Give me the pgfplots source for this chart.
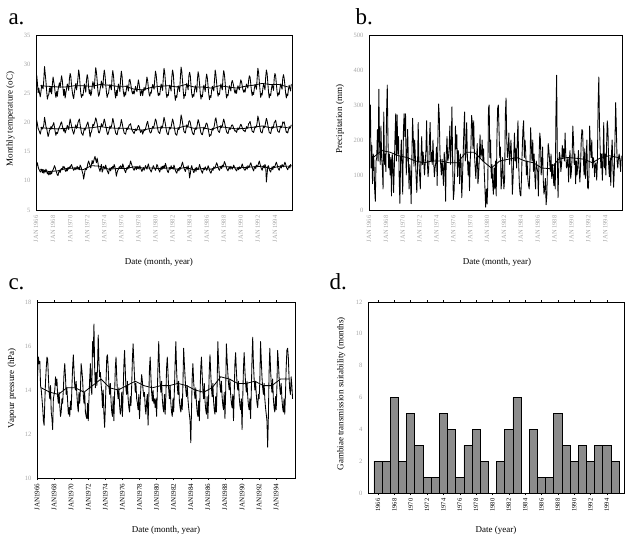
\documentclass[border=0pt]{standalone}
\usepackage{pgfplots}
\pgfplotsset{compat=1.18}
\usepackage{pgfplotstable}
\usepackage{fontspec}
\setmainfont{Liberation Serif}

% monthly series, Jan 1966 - Dec 1995
% tx: max temp, tm: mean temp, tn: min temp, pr: precipitation, vp: vapour pressure
\pgfplotstableread{
tx tm tn pr vp
27.6 19.9 12.9 130 13.9
28.1 20.4 12.6 225 14.8
26.8 19.7 13.1 300 15.5
25.1 19.0 12.4 120 15.2
25.9 18.7 12.0 185 15.3
25.0 18.4 11.8 75 14.2
24.4 18.0 11.5 160 14.0
25.3 18.6 11.7 140 13.6
26.4 19.2 12.0 60 13.2
26.0 18.9 11.4 25 12.6
25.8 19.1 11.9 140 12.4
27.4 19.6 11.3 150 13.5
29.6 20.9 11.8 230 14.4
28.3 20.2 11.5 140 15.0
27.0 19.3 12.0 345 15.5
25.4 19.0 11.6 190 15.4
24.0 18.3 11.2 130 14.6
24.6 17.6 11.5 240 13.9
24.8 18.0 11.0 150 13.6
25.9 18.7 11.4 120 14.2
25.2 18.8 11.1 60 13.0
26.1 19.3 11.6 280 12.7
24.9 18.9 11.2 130 12.2
26.5 19.4 11.7 160 13.6
27.8 19.6 11.9 110 13.8
27.0 20.0 12.2 280 14.0
26.2 19.2 12.6 357 14.6
25.0 18.4 12.3 200 14.2
24.3 17.8 11.8 120 14.5
25.3 18.3 11.4 160 13.7
24.5 18.1 11.0 100 13.4
25.6 18.5 10.9 150 13.9
26.3 19.0 11.5 40 13.3
26.8 19.2 11.8 160 12.8
26.0 19.5 11.4 140 13.0
27.1 19.9 12.0 50 13.6
28.0 20.1 12.1 120 13.4
27.2 19.4 11.9 210 14.0
25.8 19.0 12.5 275 14.8
24.6 18.5 12.2 140 15.2
25.7 18.9 12.4 272 14.6
24.2 18.2 11.8 160 13.8
25.1 18.6 11.6 210 14.1
25.8 19.0 12.0 85 13.5
26.6 19.5 11.7 19 12.9
26.2 19.2 12.3 150 13.2
25.5 18.8 12.0 200 12.8
27.5 19.8 12.4 120 13.5
28.4 20.6 12.2 45 13.1
27.9 20.0 12.6 230 14.1
26.3 19.4 12.8 275 15.0
25.3 18.8 12.4 210 15.6
24.5 18.4 12.1 275 14.9
24.1 18.0 11.8 100 14.2
25.2 18.5 12.0 150 14.0
26.0 19.1 12.3 230 14.4
26.7 19.6 11.9 145 13.8
25.6 19.0 12.2 60 13.3
26.4 19.3 12.5 130 13.0
27.6 20.0 12.0 90 13.9
29.0 20.3 12.3 18 13.4
28.2 20.6 11.9 150 14.0
26.4 19.7 12.7 262 15.2
25.0 18.9 12.5 210 14.9
24.3 18.2 12.1 125 14.5
24.8 18.0 11.6 200 13.8
24.6 17.8 11.2 150 13.4
25.5 18.4 10.3 95 13.9
26.6 19.0 11.0 50 13.0
26.0 18.7 11.8 120 12.8
25.2 19.1 12.1 250 12.7
27.3 19.5 11.9 140 13.4
28.2 19.8 12.4 100 12.6
27.6 20.1 13.0 60 13.6
26.0 19.4 13.4 150 14.5
24.9 18.7 13.0 210 15.2
25.6 17.5 12.6 130 14.1
24.6 18.2 12.2 165 13.8
25.0 18.4 12.8 135 16.2
26.2 19.0 13.5 100 15.5
27.0 19.7 12.9 135 17.0
26.5 19.4 13.3 170 15.0
25.8 19.8 13.8 255 14.1
27.8 20.2 14.2 140 14.8
29.4 20.8 13.6 95 14.2
28.6 20.4 13.1 120 15.0
27.2 19.8 13.9 200 16.5
25.4 19.0 13.2 250 15.3
24.5 18.3 12.4 140 14.6
24.8 18.2 12.0 165 14.8
25.6 18.6 11.6 130 14.3
26.3 19.2 12.2 200 13.9
27.1 19.8 12.8 140 13.2
26.4 19.3 11.5 95 14.0
25.9 19.5 11.8 120 12.9
27.9 20.0 12.5 135 12.3
29.0 20.6 12.3 180 13.2
28.2 20.1 12.0 70 14.4
26.6 19.4 12.7 200 15.5
25.3 18.9 12.2 303 15.6
24.3 18.2 11.8 270 15.0
24.8 17.9 11.5 160 14.2
25.0 18.3 11.2 130 13.8
25.9 18.8 11.9 100 14.3
26.5 19.4 12.2 145 13.5
26.1 19.0 11.7 110 13.0
25.6 19.3 12.3 70 12.8
27.8 19.9 12.1 165 13.7
28.9 20.7 12.5 140 12.6
28.0 20.2 12.2 25 13.8
26.4 19.5 12.8 160 15.0
25.0 18.8 12.4 210 15.5
24.2 18.2 11.7 140 14.6
25.5 18.0 10.8 150 13.9
24.6 17.9 11.4 175 13.6
25.8 18.5 11.8 240 14.1
26.6 19.1 12.0 130 13.3
26.0 18.9 12.4 180 12.9
25.3 19.2 12.2 295 13.1
27.5 19.7 12.6 140 13.9
28.8 20.5 12.4 30 12.8
28.0 20.0 12.1 50 13.9
26.2 19.3 12.9 110 15.1
25.1 18.7 12.5 240 15.8
24.4 18.2 12.0 175 14.9
25.2 18.1 11.7 215 14.0
24.7 18.0 11.4 95 13.8
25.6 18.6 11.9 170 14.4
26.4 19.1 12.3 140 13.6
26.0 18.8 12.0 75 13.2
25.4 19.2 12.6 160 13.0
27.2 19.6 12.2 135 13.7
27.4 19.6 12.8 35 13.3
26.8 19.8 13.4 90 14.2
26.0 19.2 13.0 160 15.4
25.2 18.7 12.6 230 16.1
24.9 18.5 12.3 280 15.3
25.4 18.3 12.0 140 14.6
24.9 18.1 11.8 165 13.9
25.6 18.5 12.2 250 14.3
26.2 18.9 12.4 150 13.6
25.6 18.6 11.9 100 13.4
25.3 18.8 12.5 140 13.1
26.4 19.2 12.1 55 13.8
27.3 19.5 12.4 140 12.7
26.6 19.3 12.0 180 13.5
25.7 18.8 12.6 270 14.2
24.6 18.3 12.2 250 14.7
25.2 18.5 11.9 175 14.4
25.6 18.7 11.6 255 14.0
24.6 18.0 12.0 160 13.7
25.4 18.4 12.3 125 13.9
26.0 18.8 11.8 90 13.2
25.5 18.6 12.2 140 12.9
25.8 18.9 12.6 190 13.5
26.7 19.4 12.3 75 13.8
27.8 19.9 12.0 100 12.4
27.2 20.2 12.5 150 13.6
26.0 19.5 12.9 215 15.0
24.9 18.9 12.4 150 15.5
24.5 18.4 12.0 160 14.6
25.2 18.2 11.8 200 13.9
25.0 18.3 11.5 140 13.5
25.9 18.8 11.9 175 14.0
26.5 19.3 12.2 110 13.4
26.2 19.1 12.6 60 13.6
25.7 19.4 12.3 8 13.2
27.4 20.0 12.1 60 13.6
28.8 20.6 11.8 17 12.8
28.2 20.3 12.2 70 13.9
26.8 19.6 12.8 290 15.2
25.4 19.0 12.6 300 16.2
24.6 18.4 12.1 150 15.0
25.0 18.3 11.8 200 14.3
24.7 18.1 11.5 90 13.9
25.8 18.7 12.0 130 14.4
26.6 19.4 12.4 75 13.6
26.1 19.0 11.9 45 13.2
25.5 19.3 12.5 120 13.0
27.6 20.0 12.2 60 13.8
29.3 20.9 12.6 140 12.9
28.6 20.4 12.2 40 13.7
27.0 19.7 13.0 200 15.0
25.1 18.9 12.6 290 15.5
24.3 18.3 12.0 300 14.8
24.8 18.0 11.6 230 14.0
24.6 17.9 11.4 150 13.6
25.7 18.6 11.9 180 14.2
26.4 19.2 12.3 60 13.4
26.0 18.9 12.0 90 13.0
25.4 19.2 12.6 150 12.8
27.8 19.9 12.2 100 13.6
29.0 20.6 12.3 60 13.0
28.4 20.2 12.0 90 14.0
26.6 19.5 12.7 272 15.2
24.9 18.8 12.3 320 16.2
23.8 18.1 11.8 200 15.0
24.6 17.9 11.5 150 14.2
24.3 17.8 11.3 170 13.8
25.5 18.5 11.8 220 14.4
26.3 19.1 12.1 130 13.5
25.9 18.8 11.7 160 13.2
25.3 19.2 12.3 200 13.0
27.6 19.9 12.0 140 13.6
29.5 21.3 12.4 45 13.1
28.8 20.8 12.8 90 14.3
27.2 20.0 13.2 160 15.9
25.5 19.2 12.7 220 15.2
24.1 18.5 12.2 140 14.6
24.8 18.3 11.9 175 14.0
24.6 18.2 11.6 120 13.7
25.9 18.9 12.1 200 14.2
26.7 19.6 12.4 255 13.6
26.2 19.2 12.0 130 13.2
25.6 19.5 12.6 70 12.9
28.0 20.2 11.8 45 12.6
28.6 20.3 10.5 40 11.6
28.0 20.0 11.2 90 13.0
26.3 19.3 12.2 170 14.6
24.9 18.7 12.6 230 15.2
24.3 18.2 12.1 255 14.4
24.8 18.0 11.7 150 13.9
24.5 17.9 11.4 200 13.6
25.6 18.6 11.8 165 14.1
26.3 19.1 12.2 100 13.4
25.9 18.8 11.6 140 13.0
25.2 19.1 12.3 90 12.8
27.4 19.8 12.0 70 13.5
28.7 20.5 11.9 60 12.6
28.0 20.1 12.3 120 13.8
26.6 19.5 12.8 235 15.0
25.0 18.8 12.4 180 15.5
24.0 18.2 11.9 140 14.7
24.7 18.0 11.6 200 14.0
24.4 17.9 11.3 110 13.6
25.6 18.5 11.8 160 14.3
26.4 19.2 12.2 95 13.5
26.0 18.9 11.9 60 13.1
25.3 19.2 12.4 140 12.9
27.4 19.8 12.1 120 13.7
28.3 19.9 11.8 110 12.7
27.6 19.6 12.1 40 13.6
26.2 19.0 12.6 150 14.9
24.8 18.3 12.3 220 15.6
23.9 17.6 11.8 200 14.8
24.6 17.9 11.5 100 14.1
24.3 17.8 11.3 130 13.7
25.5 18.4 11.7 180 14.3
26.2 19.0 12.1 85 13.5
25.8 18.7 11.8 45 13.1
25.4 19.1 12.4 60 12.9
27.2 19.6 12.2 90 13.7
29.0 20.5 12.3 15 13.0
28.2 20.8 12.7 40 14.2
26.8 20.0 13.1 120 16.2
25.4 19.2 12.8 190 15.3
24.5 18.6 12.3 170 14.7
25.0 18.4 12.0 140 14.2
24.8 18.3 11.8 110 13.9
25.9 18.9 12.2 160 14.4
26.6 19.5 12.5 90 13.7
26.1 19.1 12.1 130 13.3
25.6 19.4 12.7 100 13.1
27.8 20.1 12.4 70 13.9
28.9 20.6 12.8 130 12.7
28.2 20.1 13.3 60 13.9
26.8 19.5 13.0 275 16.1
25.2 18.9 12.6 385 15.4
24.2 18.4 12.2 140 14.8
24.8 18.2 11.9 35 14.3
24.6 18.1 11.7 130 14.0
25.6 18.6 12.1 165 14.5
26.3 19.1 12.4 150 13.8
25.9 18.8 12.0 110 13.4
25.4 19.1 12.5 130 13.2
26.8 19.5 12.2 185 13.8
27.2 19.6 12.0 150 12.6
26.8 19.4 12.3 175 13.8
26.2 19.0 12.7 140 15.2
25.4 18.7 12.4 220 15.7
25.0 18.5 12.1 160 14.9
25.6 18.6 11.9 120 14.3
25.0 18.3 11.7 130 14.0
25.8 18.7 12.0 150 14.4
26.3 19.1 12.3 80 13.7
25.9 18.8 11.9 140 13.3
25.6 19.0 12.4 170 13.1
26.6 19.4 12.1 90 13.6
27.3 19.7 12.2 110 12.2
27.0 19.5 12.5 150 13.6
26.3 19.1 12.9 240 15.0
25.6 18.8 12.5 200 15.7
25.2 18.6 12.2 130 14.9
25.6 18.6 11.9 160 14.3
25.2 18.4 11.8 75 13.9
26.0 18.8 12.1 140 14.4
26.6 19.3 12.4 100 13.7
26.2 19.0 12.0 125 13.3
25.9 19.2 12.6 170 13.1
27.2 19.8 12.3 120 13.6
28.0 19.9 12.4 80 12.7
27.8 20.2 12.8 120 13.9
26.6 19.6 13.1 200 15.4
25.4 19.0 12.7 230 16.4
24.6 18.5 12.3 225 15.2
25.2 18.4 12.0 150 14.5
24.8 18.3 11.7 100 14.0
25.8 18.8 12.2 175 14.4
26.5 19.3 12.5 90 13.8
26.2 19.1 12.1 140 13.4
25.7 19.3 12.7 200 13.2
27.6 20.0 12.4 65 13.8
29.3 21.1 12.6 60 13.6
28.6 20.6 13.0 100 14.4
27.0 19.9 13.4 240 16.2
25.5 19.1 12.9 180 15.4
24.3 18.4 12.4 150 14.6
25.0 18.3 12.1 200 14.1
24.7 18.2 11.8 120 13.8
25.8 18.8 12.3 150 14.3
26.6 19.4 12.6 140 13.6
26.2 19.1 12.2 95 13.2
25.6 19.4 12.8 130 12.9
27.8 20.1 12.5 135 12.6
29.0 20.7 9.8 85 11.4
28.4 20.3 11.2 140 12.8
26.8 19.6 12.5 300 14.8
25.2 18.9 12.6 380 15.9
24.2 18.3 12.0 240 15.0
24.9 18.2 11.7 170 14.3
24.6 18.1 11.5 120 13.9
25.7 18.7 12.0 160 14.5
26.5 19.3 12.4 85 13.6
26.1 19.0 11.9 140 13.2
25.5 19.3 12.5 250 13.0
27.6 20.0 12.3 120 13.7
28.4 20.1 12.5 160 13.1
28.0 20.4 12.9 100 14.2
26.6 19.7 13.2 180 15.8
25.3 19.0 12.8 255 15.3
24.5 18.5 12.3 230 14.6
25.1 18.4 12.0 130 14.1
24.8 18.3 11.8 95 13.8
25.8 18.8 12.3 150 14.3
26.6 19.4 12.6 70 13.6
26.2 19.1 12.2 160 13.2
25.7 19.4 12.8 200 13.0
27.6 20.1 12.6 130 13.6
28.2 19.9 12.4 65 12.9
27.6 20.1 12.8 110 13.8
26.4 19.5 13.2 200 15.0
25.1 18.9 12.9 307 15.8
24.2 18.3 12.4 230 15.9
24.9 18.4 12.1 140 15.5
24.6 18.2 11.9 120 14.6
25.7 18.8 12.3 150 14.0
26.4 19.3 12.6 160 13.8
25.9 19.0 12.2 140 14.6
25.4 19.2 12.8 110 14.2
26.6 19.6 12.5 155 13.6
}\clim

\pgfplotsset{
  panel/.style={
    scale only axis,
    axis line style={line width=0.8pt},
    tick align=outside,
    major tick length=2pt,
    minor tick num=0,
    ytick style={draw=none},
    xtick style={draw=none},
    tick label style={font=\fontsize{6.5}{7}\selectfont, text=gray!70},
    label style={font=\fontsize{9}{10}\selectfont},
    /pgf/number format/assume math mode=true,
    /pgf/number format/1000 sep={},
    x tick label style={rotate=90, anchor=east},
  },
  series/.style={black, line width=0.85pt, mark=none, line join=round},
  smooth line/.style={black, line width=0.8pt, mark=none},
}

\begin{document}
\begin{tikzpicture}
\useasboundingbox (0,0) rectangle (639pt,552pt);

% ---------- a. temperature ----------
\node[anchor=base west, font=\fontsize{23}{24}\selectfont] at (5pt,527pt) {a.};
\begin{axis}[panel,
  at={(36pt,342pt)}, anchor=south west,
  width=256pt, height=175pt,
  xmin=1966, xmax=1996, ymin=5, ymax=35,
  ytick={5,10,...,35},
  xtick={1966,1968,...,1994},
  xticklabels={JAN 1966,JAN 1968,JAN 1970,JAN 1972,JAN 1974,JAN 1976,JAN 1978,JAN 1980,JAN 1982,JAN 1984,JAN 1986,JAN 1988,JAN 1990,JAN 1992,JAN 1994},
  ylabel={Monthly temperature (oC)},
  xlabel={Date (month, year)},
  ylabel style={at={(axis description cs:-0.10,0.52)}, anchor=center},
  xlabel style={at={(axis description cs:0.48,-0.30)}, anchor=center},
]
\addplot[series] table[x expr=1966+\coordindex/12, y=tx] {\clim};
\addplot[series] table[x expr=1966+\coordindex/12, y=tm] {\clim};
\addplot[series] table[x expr=1966+\coordindex/12, y=tn] {\clim};
\addplot[smooth line] coordinates {(1966.5,26.3)(1967.5,26.2)(1968.5,26.1)(1969.5,26.1)(1970.5,26.3)(1971.5,26.3)(1972.5,26.2)(1973.5,26.5)(1974.5,26.4)(1975.5,26.2)(1976.5,26.2)(1977.5,25.7)(1978.5,25.6)(1979.5,26.0)(1980.5,26.2)(1981.5,26.3)(1982.5,26.1)(1983.5,26.5)(1984.5,26.1)(1985.5,26.1)(1986.5,25.9)(1987.5,26.3)(1988.5,26.1)(1989.5,25.9)(1990.5,26.2)(1991.5,26.4)(1992.5,26.7)(1993.5,26.5)(1994.5,26.5)(1995.5,26.1)};
\addplot[smooth line] coordinates {(1966.5,19.1)(1967.5,19.0)(1968.5,18.9)(1969.5,19.0)(1970.5,19.2)(1971.5,19.0)(1972.5,19.1)(1973.5,19.3)(1974.5,19.1)(1975.5,19.0)(1976.5,19.0)(1977.5,18.8)(1978.5,18.7)(1979.5,19.0)(1980.5,19.1)(1981.5,19.1)(1982.5,19.0)(1983.5,19.4)(1984.5,19.0)(1985.5,19.1)(1986.5,18.8)(1987.5,19.3)(1988.5,19.1)(1989.5,18.9)(1990.5,19.0)(1991.5,19.2)(1992.5,19.4)(1993.5,19.1)(1994.5,19.3)(1995.5,19.1)};
\addplot[smooth line] coordinates {(1966.5,12.0)(1967.5,11.6)(1968.5,11.7)(1969.5,12.1)(1970.5,12.2)(1971.5,11.9)(1972.5,12.6)(1973.5,12.5)(1974.5,12.0)(1975.5,12.1)(1976.5,12.1)(1977.5,12.4)(1978.5,12.2)(1979.5,12.2)(1980.5,12.1)(1981.5,12.2)(1982.5,12.0)(1983.5,12.3)(1984.5,11.9)(1985.5,12.1)(1986.5,12.0)(1987.5,12.4)(1988.5,12.4)(1989.5,12.2)(1990.5,12.3)(1991.5,12.4)(1992.5,12.5)(1993.5,12.1)(1994.5,12.5)(1995.5,12.5)};
\end{axis}

% ---------- b. precipitation ----------
\node[anchor=base west, font=\fontsize{23}{24}\selectfont] at (352pt,527pt) {b.};
\begin{axis}[panel,
  at={(369pt,342pt)}, anchor=south west,
  width=253pt, height=175pt,
  xmin=1966, xmax=1996, ymin=0, ymax=500,
  ytick={0,100,...,500},
  xtick={1966,1968,...,1994},
  xticklabels={JAN 1966,JAN 1968,JAN 1970,JAN 1972,JAN 1974,JAN 1976,JAN 1978,JAN 1980,JAN 1982,JAN 1984,JAN 1986,JAN 1988,JAN 1990,JAN 1992,JAN 1994},
  ylabel={Precipitation (mm)},
  xlabel={Date (month, year)},
  ylabel style={at={(axis description cs:-0.115,0.52)}, anchor=center},
  xlabel style={at={(axis description cs:0.506,-0.30)}, anchor=center},
]
\addplot[series] table[x expr=1966+\coordindex/12, y=pr] {\clim};
\addplot[smooth line] coordinates {(1966.5,150)(1967.5,170)(1968.5,165)(1969.5,155)(1970.5,150)(1971.5,140)(1972.5,135)(1973.5,140)(1974.5,140)(1975.5,135)(1976.5,135)(1977.5,165)(1978.5,165)(1979.5,140)(1980.5,120)(1981.5,140)(1982.5,145)(1983.5,150)(1984.5,140)(1985.5,135)(1986.5,120)(1987.5,118)(1988.5,145)(1989.5,150)(1990.5,148)(1991.5,145)(1992.5,135)(1993.5,150)(1994.5,155)(1995.5,150)};
\end{axis}

% ---------- c. vapour pressure ----------
\node[anchor=base west, font=\fontsize{23}{24}\selectfont] at (5pt,262pt) {c.};
\begin{axis}[panel,
  at={(37pt,74pt)}, anchor=south west,
  width=258pt, height=176pt,
  xmin=1966, xmax=1996.2, ymin=10, ymax=18,
  ytick={10,12,...,18},
  xtick={1966,1968,...,1994},
  xticklabels={JAN1966,JAN1968,JAN1970,JAN1972,JAN1974,JAN1976,JAN1978,JAN1980,JAN1982,JAN1984,JAN1986,JAN1988,JAN1990,JAN1992,JAN1994},
  x tick label style={text=black, font=\fontsize{7}{8}\selectfont},
  xtick style={draw=black, line width=0.5pt},
  ylabel={Vapour pressure (hPa)},
  xlabel={Date (month, year)},
  ylabel style={at={(axis description cs:-0.097,0.51)}, anchor=center},
  xlabel style={at={(axis description cs:0.50,-0.295)}, anchor=center},
]
\addplot[series] table[x expr=1966+\coordindex/12, y=vp] {\clim};
\addplot[smooth line] coordinates {(1966.5,14.1)(1967.5,13.9)(1968.5,13.8)(1969.5,14.1)(1970.5,14.1)(1971.5,13.9)(1972.5,14.2)(1973.5,14.5)(1974.5,14.1)(1975.5,14.0)(1976.5,14.2)(1977.5,14.4)(1978.5,14.2)(1979.5,14.1)(1980.5,14.2)(1981.5,14.2)(1982.5,14.3)(1983.5,14.2)(1984.5,14.0)(1985.5,13.9)(1986.5,14.1)(1987.5,14.6)(1988.5,14.5)(1989.5,14.3)(1990.5,14.3)(1991.5,14.4)(1992.5,14.2)(1993.5,14.2)(1994.5,14.5)(1995.5,14.5)};
\end{axis}

% ---------- d. transmission suitability ----------
\node[anchor=base west, font=\fontsize{23}{24}\selectfont] at (326pt,262pt) {d.};
\begin{axis}[panel,
  at={(368pt,59pt)}, anchor=south west,
  width=256pt, height=191pt,
  xmin=1964.77, xmax=1996.1, ymin=0, ymax=12,
  ytick={0,2,...,12},
  xtick={1966,1968,...,1994},
  x tick label style={text=black, font=\fontsize{6.5}{7}\selectfont},
  xtick style={draw=black, line width=0.5pt},
  ylabel={Gambiae transmission suitability (months)},
  xlabel={Date (year)},
  ylabel style={at={(axis description cs:-0.105,0.52)}, anchor=center},
  xlabel style={at={(axis description cs:0.50,-0.194)}, anchor=center},
]
\addplot[ybar, bar width=1, fill=gray!90, draw=black, line width=0.7pt] coordinates {
  (1966,2)(1967,2)(1968,6)(1969,2)(1970,5)(1971,3)(1972,1)(1973,1)(1974,5)(1975,4)
  (1976,1)(1977,3)(1978,4)(1979,2)(1980,0)(1981,2)(1982,4)(1983,6)(1984,0)(1985,4)
  (1986,1)(1987,1)(1988,5)(1989,3)(1990,2)(1991,3)(1992,2)(1993,3)(1994,3)(1995,2)
};
\end{axis}
\end{tikzpicture}
\end{document}
